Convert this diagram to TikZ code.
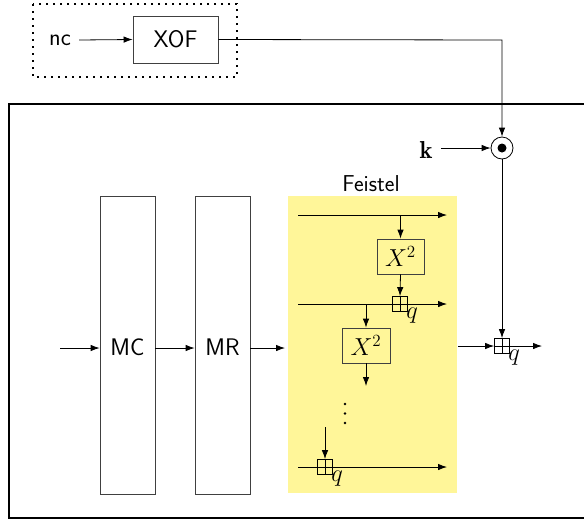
\documentclass[tikz,border=0pt]{standalone}
\usepackage{fontspec}
\usepackage{graphicx}
\usepackage{amsmath}
\usetikzlibrary{arrows.meta}
\definecolor{feistelyellow}{RGB}{255,246,153}
\newcommand{\scaledmath}[1]{\scalebox{1.42}{$#1$}}
\begin{document}
\begin{tikzpicture}[x=1pt,y=-1pt,
  >={Latex[length=9pt,width=6.5pt]},
  line width=0.8pt,
  bigtext/.style={font=\fontsize{24}{28}\selectfont\sffamily},
  mtext/.style={font=\fontsize{17.28}{21}\selectfont},
  opbox/.style={draw=black!75, rectangle, inner sep=0pt},
  bplus/.style={draw, rectangle, minimum size=15pt, inner sep=0pt,
    path picture={\draw (path picture bounding box.north) -- (path picture bounding box.south)
      (path picture bounding box.west) -- (path picture bounding box.east);}},
  odotnode/.style={draw, circle, minimum size=22pt, inner sep=0pt,
    path picture={\fill (path picture bounding box.center) circle (4.5pt);}},
  vdot/.style={fill, circle, minimum size=2.6pt, inner sep=0pt},
]
\useasboundingbox (0,0) rectangle (584,523);

% top dotted region
\draw[line width=2.4pt, dash pattern=on 2.4pt off 4.6pt] (33,4) rectangle (237,77);
\node[bigtext, inner sep=0pt] (nc) at (60,40) {nc};
\node[opbox, bigtext, minimum width=85pt, minimum height=47pt] (xof) at (175.5,39.5) {XOF};
\draw[->] (nc.east) ++(8,0) -- (xof.west);

% main box
\draw[line width=2.5pt] (9,104) rectangle (592,518);

% key and odot
\node[odotnode] (od) at (502,148) {};
\node[mtext, inner sep=0pt] (k) at (426,150) {\scaledmath{\mathbf{k}}};
\draw[->] (k.east) ++(8,-2) -- (od.west);
\coordinate (xc) at (502,40);
\draw[->] (xof.east) -- (xc) -- (od.north);

% MC, MR
\node[opbox, minimum width=55pt, minimum height=298pt] (mc) at (127.5,345) {};
\node[opbox, minimum width=55pt, minimum height=298pt] (mr) at (222.5,345) {};
\node[bigtext] (mct) at (127.5,347) {MC};
\node[bigtext] (mrt) at (222.5,347) {MR};
\coordinate (in) at (60,348);
\draw[->] (in) -- (mc.west |- in);
\draw[->] (mc.east |- in) -- (mr.west |- in);
\coordinate (fin) at (285,348);
\draw[->] (mr.east |- in) -- (fin);

% Feistel
\fill[feistelyellow] (288,196) rectangle (457,493);
\node[font=\fontsize{23}{27}\selectfont\sffamily] (ft) at (371,184) {Feistel};
\coordinate (l1s) at (298,215);
\coordinate (l1e) at (447,215);
\draw[->] (l1s) -- (l1e);
\node[opbox, mtext, minimum width=47pt, minimum height=35pt] (x1) at (400.5,256.5) {\scaledmath{X^2}};
\draw[->] (x1.north |- l1s) -- (x1.north);
\node[bplus] (p1) at (400,304) {};
\coordinate (l2s) at (298,304);
\coordinate (l2e) at (447,304);
\draw[->] (l2s) -- (l2e);
\draw[->] (x1.south) -- (p1.north);
\node[mtext, anchor=north west, inner sep=0pt] (q1) at (406,308) {\scaledmath{q}};
\node[opbox, mtext, minimum width=48pt, minimum height=35pt] (x2) at (366,345.5) {\scaledmath{X^2}};
\draw[->] (x2.north |- l2s) -- (x2.north);
\coordinate (x2o) at (366,386);
\draw[->] (x2.south) -- (x2o);
\node[vdot] (d1) at (345,404) {};
\node[vdot] (d2) at (345,413.5) {};
\node[vdot] (d3) at (345,423) {};
\node[bplus] (p3) at (325,467) {};
\coordinate (p3i) at (325,427);
\draw[->] (p3i) -- (p3.north);
\coordinate (l3s) at (298,467);
\coordinate (l3e) at (447,467);
\draw[->] (l3s) -- (l3e);
\node[mtext, anchor=north west, inner sep=0pt] (q3) at (331,471) {\scaledmath{q}};

% output combine
\node[bplus] (po) at (502,346) {};
\coordinate (fo) at (458,346);
\draw[->] (fo) -- (po.west);
\draw[->] (od.south) -- (po.north);
\coordinate (out) at (542,346);
\draw[->] (po.east) -- (out);
\node[mtext, anchor=north west, inner sep=0pt] (qo) at (508,350) {\scaledmath{q}};
\end{tikzpicture}
\end{document}
